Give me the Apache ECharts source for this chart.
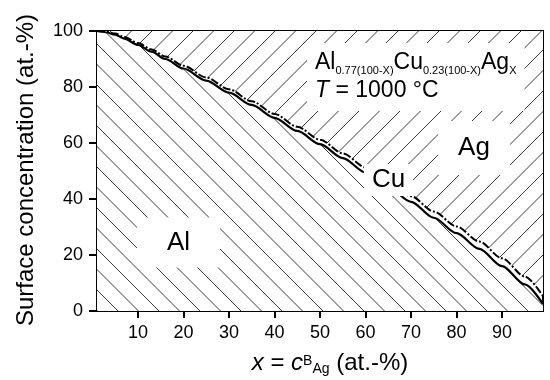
<!DOCTYPE html>
<html><head><meta charset="utf-8">
<script src="https://cdn.jsdelivr.net/npm/echarts@6/dist/echarts.min.js"></script>
<style>html,body{margin:0;padding:0;background:#fff}#c{width:550px;height:380px}</style>
</head><body><div id="c"></div>
<script>
// ---- data ----
const xValues     = [1, 3, 5, 7, 10, 13, 16, 20, 25, 30, 35, 40, 45, 50, 55, 60, 65, 70, 75, 80, 85, 90, 95, 99];
const alSurface   = [100, 99.6, 98.7, 97.3, 95.0, 92.6, 90.0, 86.6, 82.3, 78.0, 73.6, 69.0, 64.3, 59.6, 54.6, 49.5, 44.2, 39.0, 33.3, 27.8, 22.2, 16.0, 9.5, 2.5];
const alCuSurface = [100, 99.8, 99.1, 97.9, 95.7, 93.4, 90.9, 87.6, 83.4, 79.2, 74.9, 70.4, 65.8, 61.2, 56.3, 51.3, 46.1, 41.0, 35.5, 30.2, 24.8, 18.8, 12.3, 5.3];
const xTicks = [10, 20, 30, 40, 50, 60, 70, 80, 90];
const xRange = [1, 99];
const yRange = [0, 100];
const yStep = 20;
const regionLabels = ['Al', 'Cu', 'Ag'];

const FONT = "'Liberation Sans', Arial, Helvetica, sans-serif";

function hatch(dir, offset) {
  const S = 41, step = 20.5;
  const cv = document.createElement('canvas');
  cv.width = S; cv.height = S;
  const ctx = cv.getContext('2d');
  ctx.fillStyle = '#fff';
  ctx.fillRect(0, 0, S, S);
  ctx.strokeStyle = '#3a3a3a';
  ctx.lineWidth = 1;
  ctx.beginPath();
  for (let k = -4; k <= 4; k++) {
    const c = offset + k * step;
    if (dir === 'back') { // x - y = c
      ctx.moveTo(c - 2, -2); ctx.lineTo(c + S + 2, S + 2);
    } else {              // x + y = c
      ctx.moveTo(c + 2, -2); ctx.lineTo(c - S - 2, S + 2);
    }
  }
  ctx.stroke();
  return { image: cv, repeat: 'repeat' };
}

const pairs = (ys) => xValues.map((x, i) => [x, ys[i]]);

const chart = echarts.init(document.getElementById('c'), null, { renderer: 'canvas' });
chart.setOption({
  animation: false,
  backgroundColor: '#fff',
  grid: { left: 97, right: 7, top: 31, bottom: 69, show: true, borderColor: '#000', borderWidth: 2, backgroundColor: 'transparent' },
  xAxis: {
    type: 'value', min: xRange[0], max: xRange[1],
    axisLine: { lineStyle: { color: '#000', width: 2 } },
    axisTick: { customValues: xTicks, length: 7, lineStyle: { color: '#000', width: 2 } },
    axisLabel: { customValues: xTicks, color: '#000', fontSize: 18, fontFamily: FONT, margin: 13 },
    splitLine: { show: false }
  },
  yAxis: {
    type: 'value', min: yRange[0], max: yRange[1], interval: yStep,
    axisLine: { show: true, lineStyle: { color: '#000', width: 2 } },
    axisTick: { show: true, length: 8, lineStyle: { color: '#000', width: 2 } },
    axisLabel: { color: '#000', fontSize: 18, fontFamily: FONT, margin: 14 },
    splitLine: { show: false }
  },
  series: [
    {
      type: 'line', name: 'Al', data: pairs(alSurface), showSymbol: false,
      smooth: 0.3, smoothMonotone: 'x',
      lineStyle: { color: '#000', width: 2.2 },
      areaStyle: { origin: 'start', color: hatch('back', 12), opacity: 1 },
      z: 3
    },
    {
      type: 'line', name: 'Al+Cu', data: pairs(alCuSurface), showSymbol: false,
      smooth: 0.3, smoothMonotone: 'x',
      lineStyle: { color: '#000', width: 2, type: [8, 2, 2, 2] },
      areaStyle: { origin: 'end', color: hatch('fwd', 19), opacity: 1 },
      z: 4
    }
  ],
  graphic: [
    { type: 'text', z: 100, x: 178.5, y: 242.5,
      style: { text: regionLabels[0], font: '26px ' + FONT, fill: '#000', align: 'center', verticalAlign: 'middle', backgroundColor: '#fff', padding: [12, 30] } },
    { type: 'text', z: 100, x: 388.5, y: 180,
      style: { text: regionLabels[1], font: '26px ' + FONT, fill: '#000', align: 'center', verticalAlign: 'middle', backgroundColor: '#fff', padding: [3, 8] } },
    { type: 'text', z: 100, x: 474, y: 148,
      style: { text: regionLabels[2], font: '26px ' + FONT, fill: '#000', align: 'center', verticalAlign: 'middle', backgroundColor: '#fff', padding: [14, 20] } },
    { type: 'text', z: 100, x: 307, y: 43,
      style: {
        text: '{m|Al}{s|0.77(100-X)}{m|Cu}{s|0.23(100-X)}{m|Ag}{s|X}\n{i|T}{m| = 1000 °C}',
        align: 'left', verticalAlign: 'top', backgroundColor: '#fff', padding: [6, 8],
        fill: '#000', font: '23px ' + FONT, lineHeight: 28,
        rich: {
          m: { fontSize: 23, fontFamily: FONT, fill: '#000', lineHeight: 28 },
          i: { fontSize: 23, fontFamily: FONT, fontStyle: 'italic', fill: '#000', lineHeight: 28 },
          s: { fontSize: 11, fontFamily: FONT, fill: '#000', verticalAlign: 'bottom', padding: [0, 0, 1, 0] }
        }
      } },
    { type: 'text', z: 100, x: 330, y: 350,
      style: {
        text: '{i|x}{m| = }{i|c}{sup|B}{sub|Ag}{m| (at.-%)}',
        align: 'center', verticalAlign: 'top', fill: '#000', font: '24px ' + FONT, lineHeight: 26,
        rich: {
          m: { fontSize: 24, fontFamily: FONT, fill: '#000', lineHeight: 26 },
          i: { fontSize: 24, fontFamily: FONT, fontStyle: 'italic', fill: '#000', lineHeight: 26 },
          sup: { fontSize: 14, fontFamily: FONT, fill: '#000', verticalAlign: 'top', padding: [4, 0, 0, 0] },
          sub: { fontSize: 14, fontFamily: FONT, fill: '#000', verticalAlign: 'bottom', padding: [0, 0, 0, 0] }
        }
      } },
    { type: 'text', z: 100, x: 26, y: 170, rotation: Math.PI / 2,
      style: { text: 'Surface concentration (at.-%)', font: '24px ' + FONT, fill: '#000', align: 'center', verticalAlign: 'middle' } }
  ]
});
</script>
</body></html>
